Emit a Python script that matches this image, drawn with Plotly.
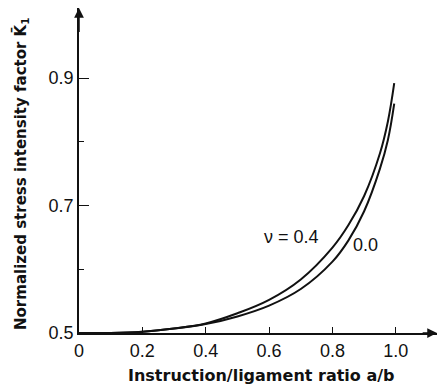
import plotly.graph_objects as go

# data
a_b = [0.0, 0.1, 0.2, 0.3, 0.4, 0.5, 0.6, 0.7, 0.8, 0.85, 0.9, 0.95, 0.975, 0.995]
k_nu04 = [0.500, 0.500, 0.502, 0.507, 0.515, 0.531, 0.552, 0.584, 0.634, 0.669, 0.715, 0.782, 0.832, 0.892]
k_nu00 = [0.500, 0.500, 0.502, 0.507, 0.514, 0.526, 0.543, 0.569, 0.612, 0.645, 0.691, 0.758, 0.803, 0.860]

x_ticks = [0, 0.2, 0.4, 0.6, 0.8, 1.0]
x_tick_text = ["0", "0.2", "0.4", "0.6", "0.8", "1.0"]
y_ticks = [0.5, 0.7, 0.9]
y_tick_text = ["0.5", "0.7", "0.9"]
curve_labels = ["\u03bd = 0.4", "0.0"]

FONT = "Liberation Sans, Arial, sans-serif"
TITLE_FONT = "DejaVu Sans, sans-serif"
INK = "#111111"

# plot area in pixels
L, R, T, B = 79, 4, 8, 54
W, H = 441, 387
PW, PH = W - L - R, H - T - B


def px_to_paper(px, py):
    return (px - L) / PW, (H - B - py) / PH


fig = go.Figure()
for ys in (k_nu04, k_nu00):
    fig.add_trace(go.Scatter(x=a_b, y=ys, mode="lines",
                             line=dict(color=INK, width=2, shape="spline", smoothing=1.1),
                             showlegend=False, hoverinfo="skip"))

fig.update_layout(
    width=W, height=H,
    margin=dict(l=L, r=R, t=T, b=B, autoexpand=False),
    paper_bgcolor="white", plot_bgcolor="white",
    font=dict(family=FONT, color=INK, size=18),
    xaxis=dict(range=[0, 1.13], showgrid=False, zeroline=False, automargin=False,
               showline=True, linecolor=INK, linewidth=1.5,
               tickvals=x_ticks, ticktext=x_tick_text,
               ticks="inside", ticklen=6, tickwidth=1.2, tickcolor=INK,
               tickfont=dict(size=18), ticklabelstandoff=1),
    yaxis=dict(range=[0.5, 1.01], showgrid=False, zeroline=False, automargin=False,
               showline=True, linecolor=INK, linewidth=1.5,
               tickvals=y_ticks, ticktext=y_tick_text,
               ticks="inside", ticklen=10, tickwidth=1.2, tickcolor=INK,
               tickfont=dict(size=18),
               minor=dict(tickvals=[0.6, 0.8], ticks="inside", ticklen=5,
                          tickwidth=1.2, tickcolor=INK)),
)

# axis arrowheads
fig.add_annotation(x=1.13, y=0.5, ax=1.08, ay=0.5, xref="x", yref="y",
                   axref="x", ayref="y", showarrow=True, arrowhead=2,
                   arrowsize=1.3, arrowwidth=1.5, arrowcolor=INK, text="")
fig.add_annotation(x=0, y=1.01, ax=0, ay=0.97, xref="x", yref="y",
                   axref="x", ayref="y", showarrow=True, arrowhead=2,
                   arrowsize=1.3, arrowwidth=1.5, arrowcolor=INK, text="")

# curve labels
fig.add_annotation(x=0.672, y=0.650, xref="x", yref="y", text=curve_labels[0],
                   showarrow=False, font=dict(size=18, color=INK))
fig.add_annotation(x=0.905, y=0.6375, xref="x", yref="y", text=curve_labels[1],
                   showarrow=False, font=dict(size=18, color=INK))

# axis titles
xt, yt = px_to_paper(261, 375)
fig.add_annotation(x=xt, y=yt, xref="paper", yref="paper",
                   text="<b>Instruction/ligament ratio a/b</b>", showarrow=False,
                   font=dict(family=TITLE_FONT, size=16, color=INK),
                   xanchor="center", yanchor="middle")
xt, yt = px_to_paper(20, 174)
fig.add_annotation(x=xt, y=yt, xref="paper", yref="paper",
                   text="<b>Normalized stress intensity factor K\u0304<sub>1</sub></b>",
                   textangle=-90, showarrow=False,
                   font=dict(family=TITLE_FONT, size=15, color=INK),
                   xanchor="center", yanchor="middle")

fig.write_html("out.html", config={"displayModeBar": False},
               post_script="document.body.style.margin='0';document.body.style.overflow='hidden';")
